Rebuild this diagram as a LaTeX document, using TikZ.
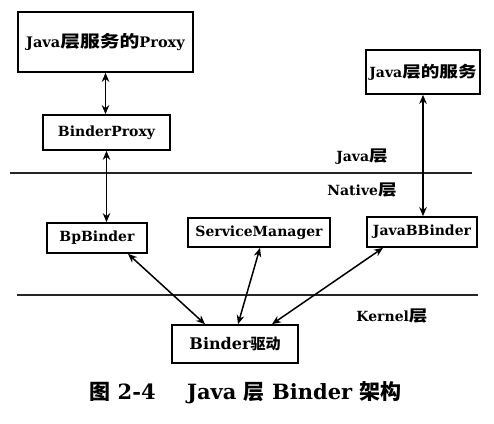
\documentclass[tikz,border=0pt]{standalone}
\usepackage{fontspec}
\setmainfont{DejaVu Serif}
\newfontfamily\cjk[FakeStretch=1.2]{Noto Sans CJK SC}
\newfontfamily\cjkcap{Noto Sans CJK SC}
\usetikzlibrary{arrows.meta}
\newcommand\zh[1]{{\cjk\bfseries\fontsize{15.5}{16}\selectfont #1}}
\tikzset{
  box/.style={draw=black, line width=1.7pt, fill=white, inner sep=0pt, font=\bfseries\fontsize{14}{16}\selectfont},
  lbl/.style={inner sep=0pt, font=\bfseries\fontsize{14}{16}\selectfont},
  layer/.style={line width=1.4pt, black!85},
  link/.style={line width=1.5pt, {Stealth[length=9pt,width=7.5pt]}-{Stealth[length=9pt,width=7.5pt]}},
}
\begin{document}
\begin{tikzpicture}[x=1pt,y=-1pt]
\useasboundingbox[fill=white] (0,0) rectangle (494,423);
% layer lines
\coordinate (l1a) at (10,173); \coordinate (l1b) at (472,173);
\coordinate (l2a) at (17,295); \coordinate (l2b) at (478,295);
\draw[layer] (l1a) -- (l1b);
\draw[layer] (l2a) -- (l2b);
% boxes
\node[box, minimum width=175pt, minimum height=60pt, font=\bfseries\fontsize{14.5}{16}\selectfont] (proxy) at (105.5,42) {Java{\cjk\bfseries\fontsize{16.5}{17}\selectfont 层服务的}Proxy};
\node[box, minimum width=127pt, minimum height=35pt] (bproxy) at (106.5,132.5) {BinderProxy};
\node[box, minimum width=114pt, minimum height=44pt] (jsvc) at (423,72) {Java\zh{层的服务}};
\node[box, minimum width=100pt, minimum height=30pt] (bp) at (97,238) {BpBinder};
\node[box, minimum width=142pt, minimum height=29pt] (sm) at (259,232.5) {ServiceManager};
\node[box, minimum width=110pt, minimum height=30pt] (jbb) at (422,232) {JavaBBinder};
\node[box, minimum width=126pt, minimum height=38pt, font=\bfseries\fontsize{16}{18}\selectfont] (drv) at (235,344) {Binder{\cjkcap\bfseries\fontsize{15}{16}\selectfont 驱动}};
% layer labels
\node[lbl] (ljava) at (362,157) {Java\zh{层}};
\node[lbl] (lnative) at (362,190) {Native\zh{层}};
\node[lbl] (lkernel) at (392,316) {Kernel\zh{层}};
% connectors
\draw[link] (proxy.south) -- (proxy.south |- bproxy.north);
\draw[link] (bproxy.south) -- (bproxy.south |- bp.north);
\draw[link] (jsvc.south) -- (jsvc.south |- jbb.north);
\draw[link] ([xshift=31pt]bp.south) -- ([xshift=-30pt]drv.north);
\draw[link] ([xshift=1pt]sm.south) -- ([xshift=3pt]drv.north);
\draw[link] ([xshift=-39pt]jbb.south) -- ([xshift=37pt]drv.north);
% caption
\node[inner sep=0pt, font=\bfseries\fontsize{21}{23}\selectfont] (cap) at (245.5,393) {{\cjkcap\bfseries 图} 2-4\hspace{1.5em}Java {\cjkcap\bfseries 层} Binder {\cjkcap\bfseries 架构}};
\end{tikzpicture}
\end{document}
